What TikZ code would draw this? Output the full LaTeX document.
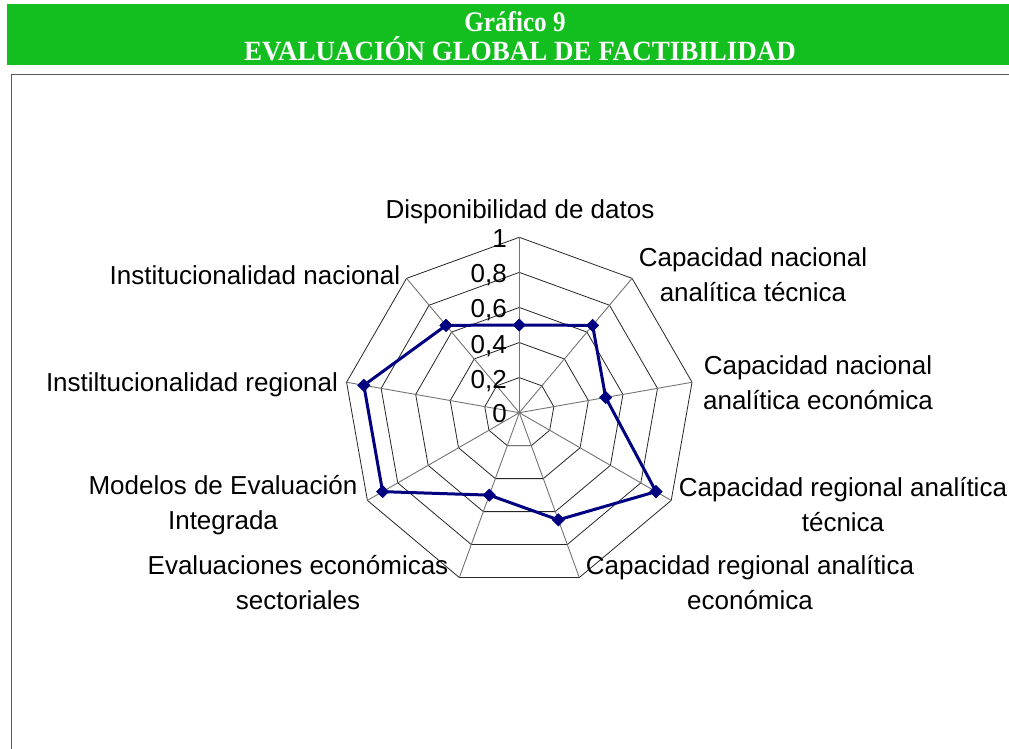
\documentclass[tikz,border=0pt]{standalone}
\usepackage{fontspec}
\setmainfont{Liberation Sans}
\newfontfamily\headfont{Liberation Serif}
\usetikzlibrary{shapes.geometric}
\definecolor{hdrgreen}{RGB}{19,190,31}
\definecolor{navyline}{RGB}{0,0,128}
\definecolor{framegray}{RGB}{90,90,90}
\tikzset{
  gridline/.style={draw=black!85, line width=0.8pt},
  spoke/.style={draw=black!55, line width=0.9pt},
  serieslink/.style={draw=navyline, line width=3pt, line join=round},
  marker/.style={diamond, fill=navyline, draw=none, inner sep=0pt, minimum size=13pt},
  catlabel/.style={font=\fontsize{26}{35}\selectfont, align=center, inner sep=0pt},
  ticklabel/.style={font=\fontsize{26}{30}\selectfont, anchor=east, inner sep=0pt},
  headtext/.style={font=\headfont\bfseries\fontsize{27}{30}\selectfont, text=white, anchor=base, inner sep=0pt}
}
\begin{document}
\begin{tikzpicture}[x=1pt,y=1pt]
\useasboundingbox (0,0) rectangle (1009,-748);
% header
\fill[hdrgreen] (7,-4) rectangle (1009,-65);
\node[headtext] (h1) at (515,-31) {\scalebox{0.93}[1.05]{Gráfico 9}};
\node[headtext] (h2) at (520,-60) {\scalebox{1}[1.03]{EVALUACIÓN GLOBAL DE FACTIBILIDAD}};
% frame
\draw[framegray, line width=1.3pt] (11.7,-760) -- (11.7,-74.5) -- (1020,-74.5);
% chart
\coordinate (C) at (519.3,-412.7);
\begin{scope}[shift={(C)}]
  \foreach \k in {1,...,5}{
    \pgfmathsetmacro{\r}{\k*35.08}
    \draw[gridline] (90:\r) -- (50:\r) -- (10:\r) -- (-30:\r) -- (-70:\r) -- (-110:\r) -- (-150:\r) -- (170:\r) -- (130:\r) -- cycle;
  }
  \foreach \a in {90,50,10,-30,-70,-110,-150,170,130}{
    \draw[spoke] (0,0) -- (\a:175.4);
  }
  % data points
  \node[marker] (p1) at (90:{0.5*175.4}) {};
  \node[marker] (p2) at (50:{0.65*175.4}) {};
  \node[marker] (p3) at (10:{0.5*175.4}) {};
  \node[marker] (p4) at (-30:{0.9*175.4}) {};
  \node[marker] (p5) at (-70:{0.65*175.4}) {};
  \node[marker] (p6) at (-110:{0.5*175.4}) {};
  \node[marker] (p7) at (-150:{0.9*175.4}) {};
  \node[marker] (p8) at (170:{0.9*175.4}) {};
  \node[marker] (p9) at (130:{0.65*175.4}) {};
\end{scope}
\draw[serieslink] (p1.center) -- (p2.center) -- (p3.center) -- (p4.center) -- (p5.center) -- (p6.center) -- (p7.center) -- (p8.center) -- (p9.center) -- cycle;
\foreach \i in {1,...,9}{ \node[marker] at (p\i) {}; }
% tick labels
\node[ticklabel] (t0) at (507,-414) {0};
\node[ticklabel] (t2) at (507,-381) {0,2};
\node[ticklabel] (t4) at (507,-346) {0,4};
\node[ticklabel] (t6) at (507,-310) {0,6};
\node[ticklabel] (t8) at (507,-275) {0,8};
\node[ticklabel] (t10) at (507,-239) {1};
% category labels
\node[catlabel] (l1) at (520,-212) {Disponibilidad de datos};
\node[catlabel] (l2) at (753,-275) {Capacidad nacional\\analítica técnica};
\node[catlabel] (l3) at (818,-383) {Capacidad nacional\\analítica económica};
\node[catlabel] (l4) at (843,-505) {Capacidad regional analítica\\técnica};
\node[catlabel] (l5) at (750,-583) {Capacidad regional analítica\\económica};
\node[catlabel] (l6) at (298,-583) {Evaluaciones económicas\\sectoriales};
\node[catlabel] (l7) at (223,-505) {Modelos de Evaluación\\Integrada};
\node[catlabel] (l8) at (192,-385) {Instiltucionalidad regional};
\node[catlabel] (l9) at (255,-275) {Institucionalidad nacional};
\end{tikzpicture}
\end{document}
